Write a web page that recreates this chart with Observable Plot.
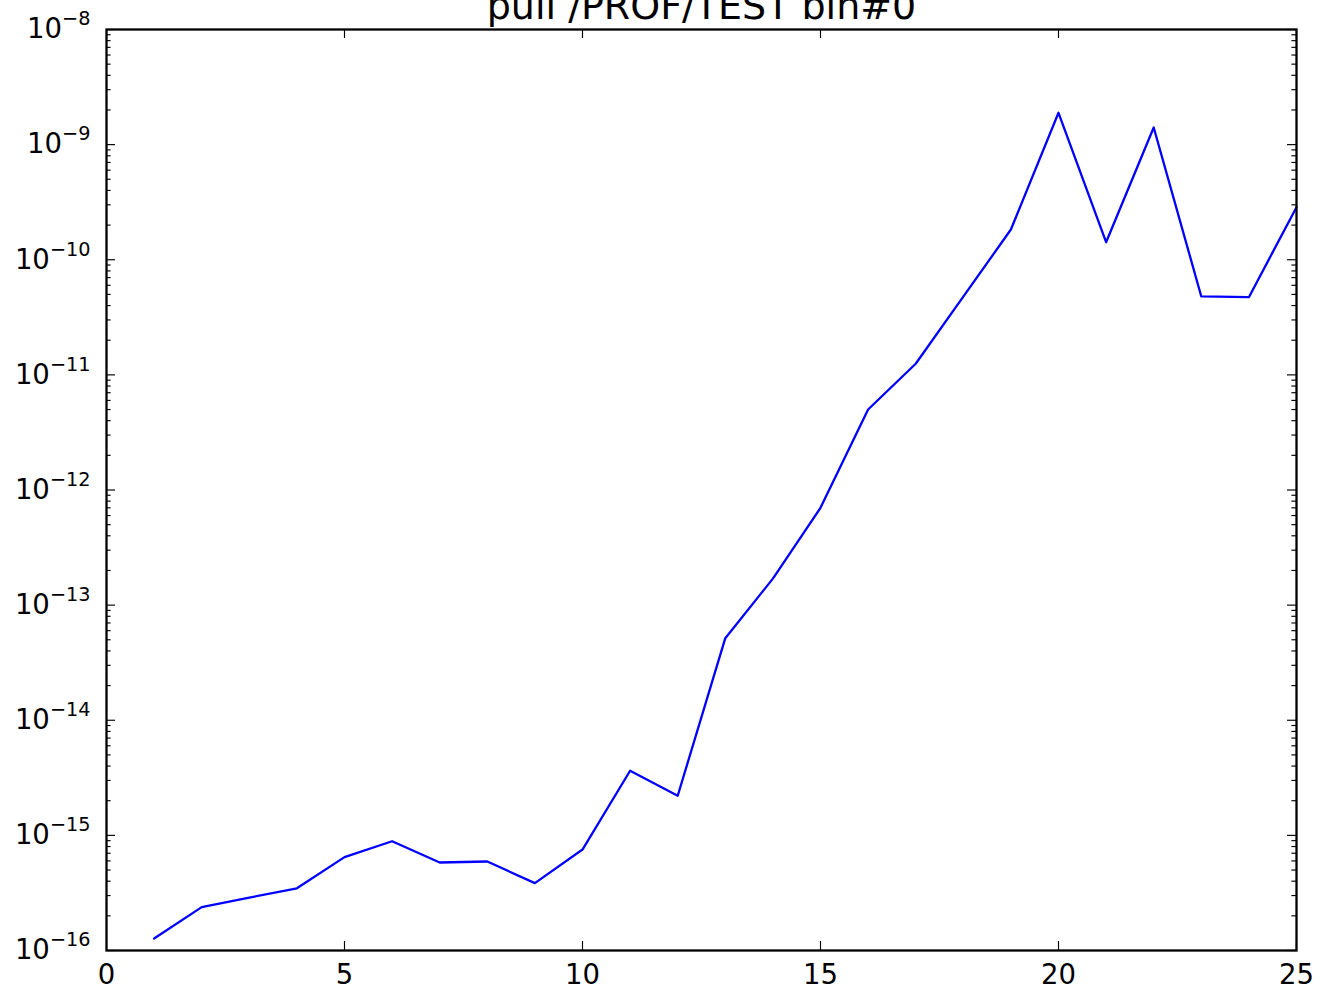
<!DOCTYPE html>
<html><head><meta charset="utf-8">
<script src="https://cdn.jsdelivr.net/npm/d3@7"></script>
<script src="https://cdn.jsdelivr.net/npm/@observablehq/plot@0.6"></script>
<style>html,body{margin:0;padding:0;background:#fff;overflow:hidden}</style>
</head><body><div id="chart"></div>
<script>
const title = "pull /PROF/TEST bin#0";
const xValues = [1,2,3,4,5,6,7,8,9,10,11,12,13,14,15,16,17,18,19,20,21,22,23,24,25];
const yValues = [1.27e-16, 2.38e-16, 2.88e-16, 3.47e-16, 6.47e-16, 8.89e-16, 5.81e-16, 5.93e-16, 3.85e-16, 7.53e-16,
  3.64e-15, 2.21e-15, 5.16e-14, 1.70e-13, 7.0e-13, 5.0e-12, 1.25e-11, 4.78e-11, 1.83e-10, 1.89e-9,
  1.42e-10, 1.41e-9, 4.80e-11, 4.73e-11, 2.86e-10];
const xTicks = [0, 5, 10, 15, 20, 25];
const yExponents = [-16, -15, -14, -13, -12, -11, -10, -9, -8];
const minorMantissas = [2, 3, 4, 5, 6, 7, 8, 9];
const lineColor = "#0000ff";

const W = 1320, H = 991, mt = 29, mr = 24, mb = 41, ml = 106;
const frameW = W - ml - mr, frameH = H - mt - mb;
const yMajor = yExponents.map(e => Math.pow(10, e));
const yMinor = yExponents.slice(0, -1).flatMap(e => minorMantissas.map(m => m * Math.pow(10, e)));
const data = xValues.map((x, i) => ({x, y: yValues[i]}));
const tickStyle = {stroke: "black", strokeWidth: 1.15};

const plot = Plot.plot({
  width: W, height: H,
  marginTop: mt, marginRight: mr, marginBottom: mb, marginLeft: ml,
  style: {fontFamily: "'DejaVu Sans', sans-serif", background: "white", color: "black"},
  x: {domain: [0, 25]},
  y: {type: "log", domain: [1e-16, 1e-8]},
  marks: [
    Plot.line(data, {x: "x", y: "y", stroke: lineColor, strokeWidth: 2.3}),
    Plot.tickX(xTicks, {x: d => d, insetTop: frameH - 9, ...tickStyle}),
    Plot.tickX(xTicks, {x: d => d, insetBottom: frameH - 9, ...tickStyle}),
    Plot.tickY(yMajor, {y: d => d, insetRight: frameW - 9, ...tickStyle}),
    Plot.tickY(yMajor, {y: d => d, insetLeft: frameW - 9, ...tickStyle}),
    Plot.tickY(yMinor, {y: d => d, insetRight: frameW - 4.6, ...tickStyle}),
    Plot.tickY(yMinor, {y: d => d, insetLeft: frameW - 4.6, ...tickStyle}),
    Plot.axisX(xTicks, {tickSize: 0, tickPadding: 14, fontSize: 27.5, label: null, tickFormat: d => String(d)}),
    Plot.axisY(yMajor, {tickSize: 0, tickPadding: 16, fontSize: 27.5, label: null,
      tickFormat: d => "10|" + Math.round(Math.log10(d))}),
    Plot.frame({stroke: "black", strokeWidth: 2.3}),
    Plot.text([title], {frameAnchor: "top", lineAnchor: "middle", dy: -22.7, fontSize: 38, text: d => d, fill: "black"})
  ]
});

const ns = "http://www.w3.org/2000/svg";
plot.querySelectorAll('g[aria-label="y-axis tick label"] text').forEach(t => {
  const parts = t.textContent.split("|");
  if (parts.length < 2) return;
  t.textContent = "";
  const b = document.createElementNS(ns, "tspan");
  b.textContent = parts[0];
  const e = document.createElementNS(ns, "tspan");
  e.textContent = parts[1].replace("-", "\u2212");
  e.setAttribute("font-size", "19.25");
  e.setAttribute("dy", "-13");
  t.append(b, e);
});

document.getElementById("chart").append(plot);
</script>
</body></html>
